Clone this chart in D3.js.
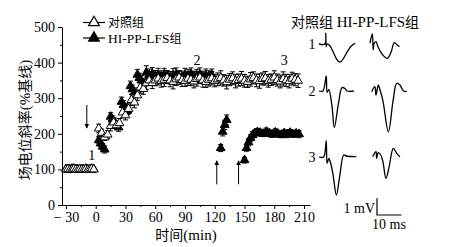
<!DOCTYPE html>
<html>
<head>
<meta charset="utf-8">
<script src="https://cdn.jsdelivr.net/npm/d3@7"></script>
<style>
body { margin: 0; background: #fff; }
svg text { font-family: "Liberation Serif", "Times New Roman", serif; fill: #000; }
.cjk { font-family: "Noto Sans CJK SC", sans-serif; }
.axis path, .axis line { stroke: #000; stroke-width: 1; }
.axis text { font-size: 14px; font-family: "Liberation Serif", serif; }
</style>
</head>
<body>
<script>
// time-course data (min, % of baseline)
var yTicks = [0, 100, 200, 300, 400, 500];
var xTicks = [-30, 0, 30, 60, 90, 120, 150, 180, 210];
var xTickLabels = ["\u2212 30", "0", "30", "60", "90", "120", "150", "180", "210"];

var ctrlTime = [-30,-28,-26,-24,-22,-20,-18,-16,-14,-12,-10,-8,-6,-4,-2,
  3,6,9,12,15,18,21,24,27,30,33,36,39,42,45,48,51,54,57,60,
  63,66,69,72,75,78,81,84,87,90,93,96,99,102,105,108,111,114,117,120,
  123,126,129,132,135,138,141,144,147,150,153,156,159,162,165,168,171,174,177,180,
  183,186,189,192,195,198,201,204];
var ctrlValue = [100,101,99,100,102,100,99,101,100,100,101,99,100,102,100,
  215,203,190,198,222,232,224,230,260,252,270,295,288,308,330,326,342,350,343,350,
  355,348,352,357,350,346,353,358,351,349,355,352,347,354,358,350,346,352,356,349,
  353,357,350,345,352,356,348,351,355,349,346,353,357,350,348,354,356,349,352,358,
  351,347,354,350,348,355,352,349];
var ctrlErr = [3,3,3,3,3,3,3,3,3,3,3,3,3,3,3,
  12,10,9,11,14,12,10,13,15,13,14,16,15,14,16,15,17,14,16,15,
  18,17,19,16,18,20,17,19,18,16,19,17,18,20,17,19,16,18,19,17,
  18,20,16,19,17,18,19,17,20,18,16,19,17,18,20,17,19,18,16,19,
  17,18,20,17,19,18,17,19];

var hiTime = [-30,-28,-26,-24,-22,-20,-18,-16,-14,-12,-10,-8,-6,-4,-2,
  3,5,7,9, 15,17,19,21,23, 26,28,30,32, 35,37,39, 42,44,46,48,
  51,54,57,60,63,66,69,72,75,78,81,84,87,90,93,96,99,102,105,108,111,114,117,
  126,128,130,132,
  150,152,154,156,158,160,163,166,169,172,175,178,181,184,187,190,193,196,199,202,205];
var hiValue = [101,99,100,102,100,101,100,99,101,100,102,100,101,99,101,
  182,173,164,156, 248,240,232,225,218, 290,281,272,265, 334,325,316, 366,357,350,342,
  372,365,368,362,365,360,366,362,358,364,367,361,359,365,362,368,360,363,366,359,364,361,365,
  160,206,225,239,
  126,160,176,188,196,201,205,203,200,206,202,198,204,200,197,202,199,203,198,201,199];
var hiErr = [3,3,3,3,3,3,3,3,3,3,3,3,3,3,3,
  10,9,9,10, 11,10,12,10,11, 13,12,12,11, 14,12,13, 15,13,14,12,
  19,17,18,16,19,17,18,16,17,19,18,16,17,19,18,17,16,18,19,17,18,16,17,
  10,12,13,14,
  8,9,10,9,10,9,10,9,8,10,9,8,10,9,8,9,10,9,8,9,10];

// stimulation arrows (min) and recording-point labels
var arrowTime = [-9, 122, 144];
var arrowDir = ["down", "up", "up"];
var pointLabel = ["1", "2", "3"];
var pointLabelTime = [-4, 102, 190];
var pointLabelValue = [126, 393, 393];

// example traces (ms, mV)
var ctrlTrace1 = [[0,0],[2.4,0],[2.75,0.65],[2.95,-0.15],[3.3,0],[4.5,-0.12],[6,-0.55],[7.5,-0.98],[8.6,-1.08],[9.8,-0.9],[11.4,-0.5],[13,-0.15],[14.7,0.05]];
var hiTrace1 = [[0,0.05],[0.95,0.62],[1.3,-0.35],[1.6,0],[2.45,0.14],[3.3,-0.18],[4.9,-0.6],[7.1,-0.86],[8.6,-0.48],[9.9,0.08],[11,-0.04],[12,-0.16]];
var ctrlTrace2 = [[0,0],[1.6,0],[2.95,0.9],[3.3,-0.08],[4,0.1],[5.3,-0.9],[6.25,-2.19],[8,-0.7],[9.4,0.2],[10.7,0.14],[11.4,0],[14.2,0]];
var hiTrace2 = [[0.7,-0.04],[2,0.26],[2.45,-0.24],[3.4,0.36],[4.1,0.06],[5.3,-0.6],[7.5,-2.44],[9.4,-0.6],[10.9,0.46],[12.2,0.36],[13.6,0.02],[15,-0.04]];
var ctrlTrace3 = [[0,0],[1.9,0],[2.95,0.98],[3.3,-0.38],[4,-0.08],[4.6,-0.28],[5.7,-1.02],[7.1,-2.28],[8.4,-1.2],[10.1,0.12],[11.1,0.06],[15.2,0.02]];
var hiTrace3 = [[1.1,0.02],[2.45,0.32],[2.7,-0.08],[3.4,0.26],[4.4,0.12],[5.3,-0.3],[6.5,-1.28],[7.8,-0.6],[9.5,0.52],[10.9,0.22],[12.2,0.02]];

var width = 468, height = 247;

var x = d3.scaleLinear().domain([-34, 216]).range([62, 310]);
var y = d3.scaleLinear().domain([0, 500]).range([205, 27]);

var svg = d3.select("body").append("svg")
    .attr("width", width)
    .attr("height", height)
    .style("background", "#fff");

// axes
var yAxis = d3.axisLeft(y).tickValues(yTicks).tickSize(4).tickPadding(3).tickSizeOuter(0);
var yMinor = d3.axisLeft(y).tickValues([50,150,250,350,450]).tickSize(2).tickFormat("");
var xAxis = d3.axisBottom(x).tickValues(xTicks).tickSize(4).tickPadding(3).tickSizeOuter(0)
    .tickFormat(function(d, i) { return xTickLabels[i]; });
var xMinor = d3.axisBottom(x).tickValues([-15,15,45,75,105,135,165,195]).tickSize(2).tickFormat("");

svg.append("g").attr("class", "axis").attr("transform", "translate(0,205)").call(xAxis);
svg.append("g").attr("class", "axis minor").attr("transform", "translate(0,205)").call(xMinor)
    .select(".domain").remove();
svg.append("g").attr("class", "axis").attr("transform", "translate(62,0)").call(yAxis);
svg.append("g").attr("class", "axis minor").attr("transform", "translate(62,0)").call(yMinor)
    .select(".domain").remove();

// axis titles
svg.append("text")
    .attr("transform", "translate(30,120) rotate(-90)")
    .attr("text-anchor", "middle")
    .style("font-size", "14px")
    .call(function(t) {
      t.append("tspan").attr("class", "cjk").text("场电位斜率");
      t.append("tspan").style("font-size", "15px").text("(%");
      t.append("tspan").attr("class", "cjk").text("基线");
      t.append("tspan").style("font-size", "15px").text(")");
    });

svg.append("text")
    .attr("x", 186).attr("y", 240)
    .attr("text-anchor", "middle")
    .style("font-size", "14px")
    .call(function(t) {
      t.append("tspan").attr("class", "cjk").text("时间");
      t.append("tspan").style("font-size", "15px").text("(min)");
    });

var tri = d3.symbol().type(d3.symbolTriangle);

function errorBars(times, values, errs) {
  var g = svg.append("g").attr("stroke", "#000").attr("stroke-width", 1);
  times.forEach(function(t, i) {
    var cx = x(t), y0 = y(values[i] - errs[i]), y1 = y(values[i] + errs[i]);
    g.append("line").attr("x1", cx).attr("x2", cx).attr("y1", y0).attr("y2", y1);
    g.append("line").attr("x1", cx - 2.5).attr("x2", cx + 2.5).attr("y1", y1).attr("y2", y1);
    g.append("line").attr("x1", cx - 2.5).attr("x2", cx + 2.5).attr("y1", y0).attr("y2", y0);
  });
}

function markers(times, values, fill) {
  svg.append("g").selectAll("path")
      .data(times)
    .enter().append("path")
      .attr("d", tri.size(33))
      .attr("transform", function(d, i) { return "translate(" + x(d) + "," + y(values[i]) + ")"; })
      .attr("fill", fill)
      .attr("stroke", "#000")
      .attr("stroke-width", 1);
}

errorBars(hiTime, hiValue, hiErr);
markers(hiTime, hiValue, "#000");
errorBars(ctrlTime, ctrlValue, ctrlErr);
markers(ctrlTime, ctrlValue, "#fff");

// arrows
var defs = svg.append("defs");
defs.append("marker")
    .attr("id", "head")
    .attr("viewBox", "0 0 10 10")
    .attr("refX", 9).attr("refY", 5)
    .attr("markerWidth", 5).attr("markerHeight", 7)
    .attr("markerUnits", "userSpaceOnUse")
    .attr("orient", "auto")
  .append("path")
    .attr("d", "M0,0L10,5L0,10Z")
    .attr("fill", "#000");

arrowTime.forEach(function(t, i) {
  var top = arrowDir[i] === "down" ? y(281) : y(124);
  var bot = arrowDir[i] === "down" ? y(216) : y(58);
  svg.append("line")
      .attr("x1", x(t)).attr("x2", x(t))
      .attr("y1", arrowDir[i] === "down" ? top : bot)
      .attr("y2", arrowDir[i] === "down" ? bot : top)
      .attr("stroke", "#000").attr("stroke-width", 1)
      .attr("marker-end", "url(#head)");
});

pointLabel.forEach(function(s, i) {
  svg.append("text")
      .attr("x", x(pointLabelTime[i])).attr("y", y(pointLabelValue[i]))
      .attr("text-anchor", "middle")
      .style("font-size", "14px")
      .text(s);
});

// legend
var legend = svg.append("g");
[["对照组", "", "#fff", 22.5], ["组", "HI-PP-LFS", "#000", 38]].forEach(function(d) {
  legend.append("line").attr("x1", 83).attr("x2", 105).attr("y1", d[3]).attr("y2", d[3])
      .attr("stroke", "#000").attr("stroke-width", 1.2);
  legend.append("path").attr("d", tri.size(50))
      .attr("transform", "translate(94," + d[3] + ")")
      .attr("fill", d[2]).attr("stroke", "#000").attr("stroke-width", 1.2);
  var t = legend.append("text").attr("x", 108).attr("y", d[3] + 4.5);
  if (d[1]) t.append("tspan").style("font-size", "13.5px").text(d[1]);
  t.append("tspan").attr("class", "cjk").style("font-size", "12px").text(d[0]);
});

// traces panel
var header = svg.append("text").attr("x", 291).attr("y", 27);
header.append("tspan").attr("class", "cjk").style("font-size", "14px").text("对照组");
header.append("tspan").style("font-size", "15px").text(" HI-PP-LFS");
header.append("tspan").attr("class", "cjk").style("font-size", "14px").text("组");

var msPx = 2.45, mvPx = 16.7;
var rowBase = [44, 91, 157];
var colX = [319, 370];
var traces = [[ctrlTrace1, hiTrace1], [ctrlTrace2, hiTrace2], [ctrlTrace3, hiTrace3]];

traces.forEach(function(row, r) {
  row.forEach(function(tr, c) {
    var tx = d3.scaleLinear().domain([0, 1]).range([colX[c], colX[c] + msPx]);
    var ty = d3.scaleLinear().domain([0, 1]).range([rowBase[r], rowBase[r] - mvPx]);
    var line = d3.line()
        .x(function(d) { return tx(d[0]); })
        .y(function(d) { return ty(d[1]); })
        .curve(d3.curveCatmullRom.alpha(0.5));
    svg.append("path")
        .attr("d", line(tr))
        .attr("fill", "none")
        .attr("stroke", "#000")
        .attr("stroke-width", 1.3);
  });
  svg.append("text")
      .attr("x", 312).attr("y", rowBase[r] + 5)
      .attr("text-anchor", "middle")
      .style("font-size", "14px")
      .text(pointLabel[r]);
});

// scale bar: 1 mV, 10 ms
var sx = d3.scaleLinear().domain([0, 10]).range([377, 377 + 10 * msPx]);
var sy = d3.scaleLinear().domain([0, 1]).range([215, 215 - mvPx]);
svg.append("path")
    .attr("d", "M" + sx(0) + "," + sy(1) + "V" + sy(0) + "H" + sx(10))
    .attr("fill", "none").attr("stroke", "#000").attr("stroke-width", 1.2);
svg.append("text").attr("x", 375).attr("y", 213).attr("text-anchor", "end")
    .style("font-size", "14px").text("1 mV");
svg.append("text").attr("x", 389).attr("y", 229).attr("text-anchor", "middle")
    .style("font-size", "14px").text("10 ms");
</script>
</body>
</html>
